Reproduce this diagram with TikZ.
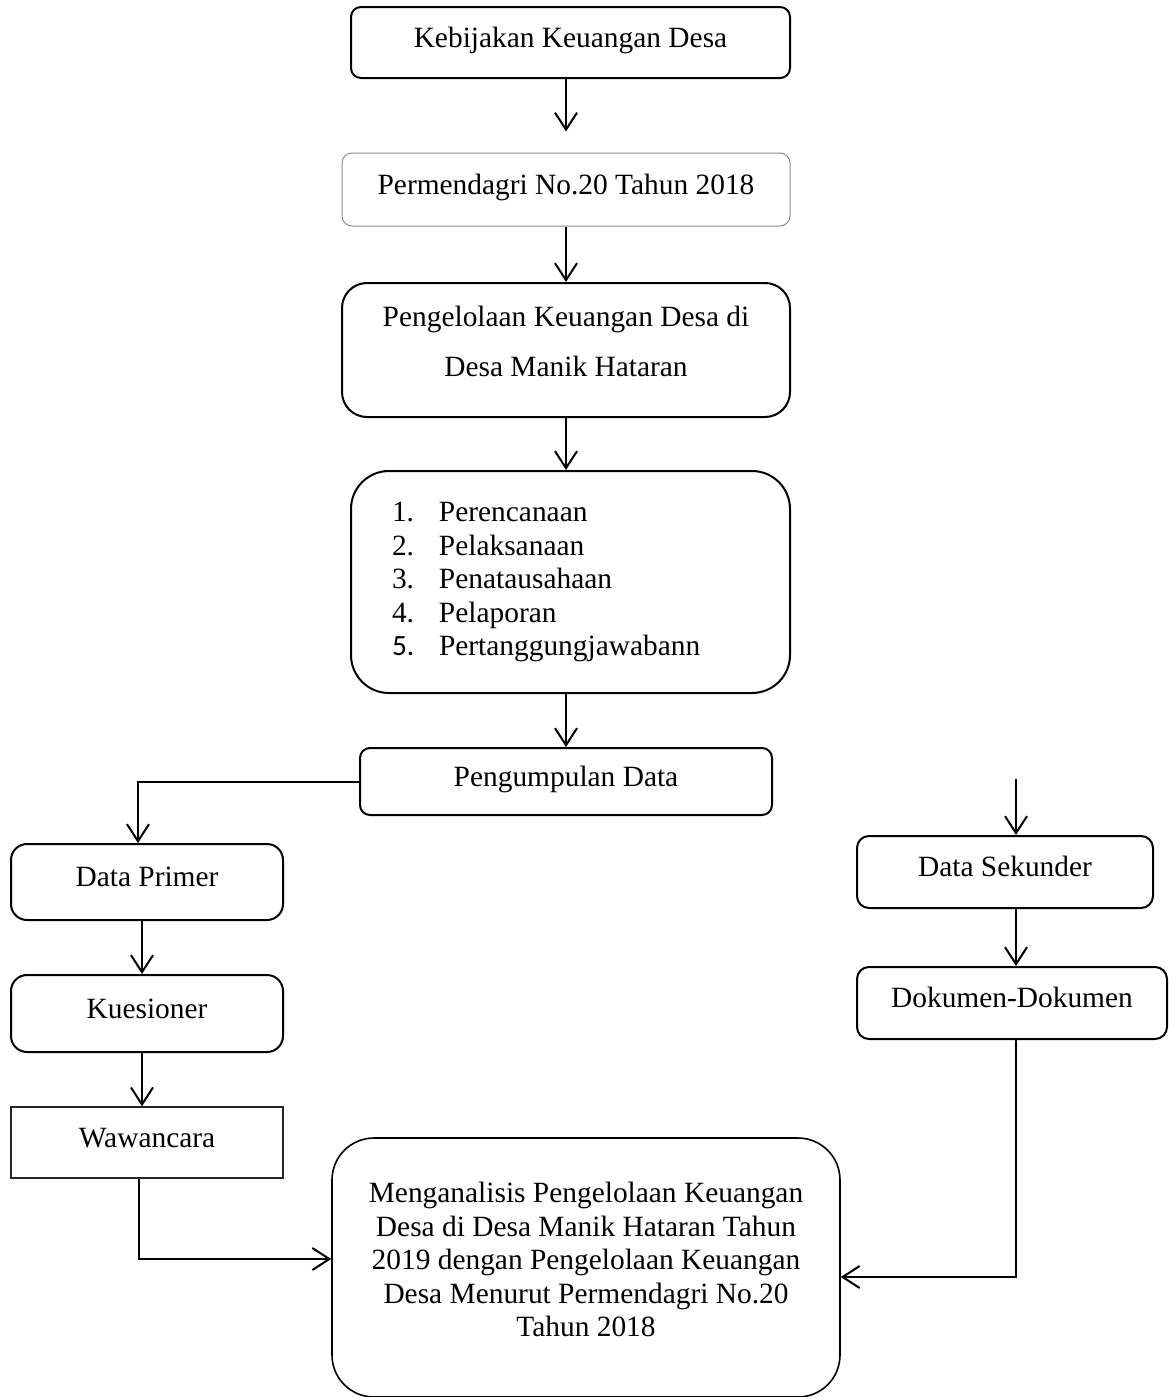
\documentclass[tikz,border=0pt]{standalone}
\usepackage{fontspec}
\setmainfont{Liberation Serif}
\newfontfamily\calibrifont{Carlito}
\usetikzlibrary{arrows.meta}

\begin{document}
\begin{tikzpicture}[x=0.5pt,y=-0.5pt]
	\tikzstyle{every node}+=[inner sep=0pt,font=\fontsize{14.7}{16.8}\selectfont]
	\tikzstyle{box}=[draw=black,line width=1pt,rounded corners=5pt,text height=10pt,text depth=5.5pt]
	\tikzstyle{bigbox}=[draw=black,line width=1pt,align=center]
	\tikzstyle{arr}=[line width=1pt,-{Straight Barb[length=8.5pt,width=11pt]}]
	\useasboundingbox (0,0) rectangle (1168,1397);
	\node [box,minimum width=219.5pt,minimum height=35.5pt] (keb) at (570.5,42.5) {Kebijakan Keuangan Desa};
	\node [box,draw=black!45,line width=0.5pt,minimum width=224pt,minimum height=36.5pt] (perm) at (566,189.5) {Permendagri No.20 Tahun 2018};
	\node [bigbox,rounded corners=12.5pt,minimum width=224pt,minimum height=67pt,font=\fontsize{14.7}{25}\selectfont] (kelola) at (566,350) {Pengelolaan Keuangan Desa di\\Desa Manik Hataran\rule[-9pt]{0pt}{9pt}};
	\node [bigbox,rounded corners=19pt,minimum width=219.5pt,minimum height=111pt] (tahap) at (570.5,582) {\begin{tabular}{@{}p{23.5pt}@{}p{155pt}@{}}
		1. & Perencanaan\\
		2. & Pelaksanaan\\
		3. & Penatausahaan\\
		4. & Pelaporan\\
		{\calibrifont 5.} & Pertanggungjawabann
	\end{tabular}};
	\node [box,minimum width=206pt,minimum height=33.5pt] (kumpul) at (566,781.5) {Pengumpulan Data};
	\node [box,rounded corners=8pt,minimum width=136pt,minimum height=38pt] (primer) at (147,882) {Data Primer};
	\node [box,rounded corners=8pt,minimum width=136pt,minimum height=38.5pt] (kues) at (147,1013.5) {Kuesioner};
	\node [box,rounded corners=0pt,draw=black!85,line width=0.7pt,minimum width=136pt,minimum height=35.5pt] (wawan) at (147,1142.5) {Wawancara};
	\node [box,rounded corners=6pt,minimum width=148pt,minimum height=36pt] (sekunder) at (1005,872) {Data Sekunder};
	\node [box,rounded corners=6pt,minimum width=155pt,minimum height=36pt] (dokumen) at (1012,1003) {Dokumen-Dokumen};
	\node [bigbox,rounded corners=21pt,line width=0.8pt,minimum width=254pt,minimum height=129.5pt,font=\fontsize{14.7}{16.75}\selectfont] (analisis) at (586,1267.5) {Menganalisis Pengelolaan Keuangan\\Desa di Desa Manik Hataran Tahun\\2019 dengan Pengelolaan Keuangan\\Desa Menurut Permendagri No.20\\Tahun 2018\rule[-8pt]{0pt}{8pt}};
	\coordinate (sekin) at (1016,779);
	\draw [arr,shorten >=10.5pt] (keb.south -| perm.north) -- (perm.north);
	\draw [arr] (perm.south) -- (kelola.north);
	\draw [arr] (kelola.south) -- (kelola.south |- tahap.north);
	\draw [arr] (tahap.south -| kumpul.north) -- (kumpul.north);
	\draw [arr] (kumpul.west) -| ([xshift=-4.5pt]primer.north);
	\draw [arr] ([xshift=-2.5pt]primer.south) -- ([xshift=-2.5pt]kues.north);
	\draw [arr] ([xshift=-2.5pt]kues.south) -- ([xshift=-2.5pt]wawan.north);
	\draw [arr] ([xshift=-4pt]wawan.south) |- ([yshift=4.25pt]analisis.west);
	\draw [arr] (sekin) -- (sekin |- sekunder.north);
	\draw [arr] (sekunder.south -| sekin) -- (dokumen.north -| sekin);
	\draw [arr] (dokumen.south -| sekin) |- ([yshift=-4.75pt]analisis.east);
\end{tikzpicture}
\end{document}
